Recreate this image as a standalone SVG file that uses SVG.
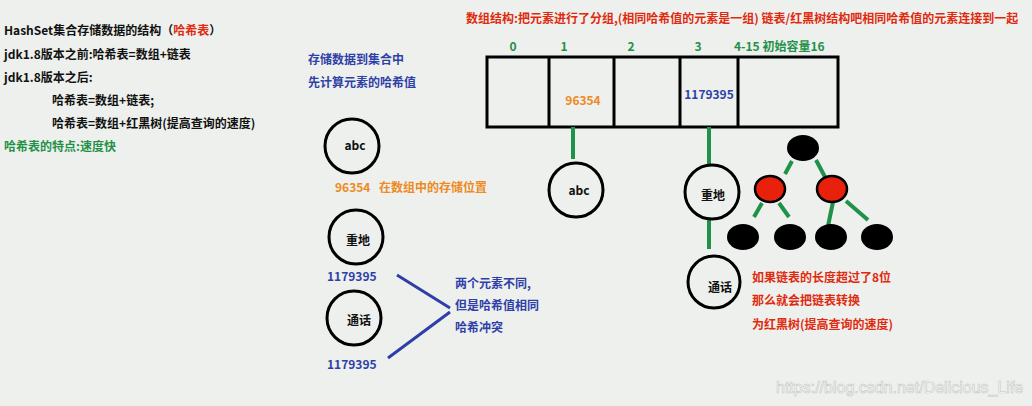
<svg xmlns="http://www.w3.org/2000/svg" width="1032" height="406" viewBox="0 0 1032 406">
<style>
text{font-family:"Microsoft YaHei","Noto Sans CJK SC","Liberation Sans",sans-serif;font-size:12px;font-weight:bold}
.k{fill:#111}
.r{fill:#e02a10}
.b{fill:#2f3fa8}
.g{fill:#1f9148}
.o{fill:#ee8a22}
.c{fill:none;stroke:#000;stroke-width:3}
.gl{stroke:#1f9148;stroke-width:4;fill:none}
.bl{stroke:#2f3fa8;stroke-width:3;fill:none}
.m{text-anchor:middle}
</style>
<rect width="1032" height="406" fill="#edf0ec"/>
<g id="notes">
<text x="4" y="35" class="k">HashSet集合存储数据的结构（<tspan class="r">哈希表</tspan>）</text>
<text x="4" y="59" class="k">jdk1.8版本之前:哈希表=数组+链表</text>
<text x="4" y="82" class="k">jdk1.8版本之后:</text>
<text x="52" y="105" class="k">哈希表=数组+链表;</text>
<text x="52" y="128" class="k">哈希表=数组+红黑树(提高查询的速度)</text>
<text x="4" y="151" class="g">哈希表的特点:速度快</text>
<text x="308" y="64" class="b">存储数据到集合中</text>
<text x="308" y="87" class="b">先计算元素的哈希值</text>
<text x="466" y="23" class="r">数组结构:把元素进行了分组,(相同哈希值的元素是一组) 链表/红黑树结构吧相同哈希值的元素连接到一起</text>
</g>
<g id="array">
<rect x="487" y="57" width="351" height="70" class="c"/>
<path d="M549 57V127M614 57V127M680 57V127M738 57V127" stroke="#000" stroke-width="3"/>
<text x="513" y="51" class="g m">0</text>
<text x="564" y="51" class="g m">1</text>
<text x="631" y="51" class="g m">2</text>
<text x="698" y="51" class="g m">3</text>
<text x="734" y="51" class="g">4-15 初始容量16</text>
<text x="583" y="105" class="o m">96354</text>
<text x="709" y="99" class="b m">1179395</text>
</g>
<g id="connectors">
<path d="M573 127V159M709 127V166M709 219V249" class="gl"/>
<path d="M792 161L785 174M816 160L825 177M762 203L754 217M779 203L789 217M833 202L828 226M846 201L868 220" class="gl"/>
<path d="M397 275L450 308M450 312L388 358" class="bl"/>
</g>
<g id="left-abc">
<circle cx="352" cy="146" r="27" class="c"/>
<text x="355" y="150" class="k m">abc</text>
<text x="335" y="192" class="o">96354</text>
<text x="379" y="192" class="o">在数组中的存储位置</text>
</g>
<g id="left-zhongdi">
<circle cx="356" cy="237" r="27" class="c"/>
<text x="358" y="245" class="k m">重地</text>
<text x="327" y="281" class="b">1179395</text>
</g>
<g id="left-tonghua">
<circle cx="354" cy="318" r="27" class="c"/>
<text x="359" y="325" class="k m">通话</text>
<text x="327" y="369" class="b">1179395</text>
</g>
<g id="collision-note">
<text x="455" y="288" class="b">两个元素不同,</text>
<text x="455" y="310" class="b">但是哈希值相同</text>
<text x="455" y="332" class="b">哈希冲突</text>
</g>
<g id="node-abc">
<circle cx="576" cy="190" r="27" class="c"/>
<text x="579" y="195" class="k m">abc</text>
</g>
<g id="node-zhongdi">
<circle cx="712" cy="192" r="27" class="c"/>
<text x="713" y="200" class="k m">重地</text>
</g>
<g id="node-tonghua">
<circle cx="714" cy="282" r="26" class="c"/>
<text x="720" y="292" class="k m">通话</text>
</g>
<g id="tree">
<ellipse cx="803" cy="148" rx="16" ry="13" fill="#000"/>
<ellipse cx="770" cy="189" rx="15" ry="13" fill="#e8200c" stroke="#000" stroke-width="2.5"/>
<ellipse cx="832" cy="189" rx="15" ry="13" fill="#e8200c" stroke="#000" stroke-width="2.5"/>
<ellipse cx="743" cy="237" rx="16" ry="13" fill="#000"/>
<ellipse cx="790" cy="237" rx="16" ry="13" fill="#000"/>
<ellipse cx="831" cy="237" rx="16" ry="13" fill="#000"/>
<ellipse cx="877" cy="237" rx="16" ry="13" fill="#000"/>
</g>
<g id="tree-note">
<text x="752" y="282" class="r">如果链表的长度超过了8位</text>
<text x="752" y="305" class="r">那么就会把链表转换</text>
<text x="752" y="329" class="r">为红黑树(提高查询的速度)</text>
</g>
<text x="776" y="393" style="font-family:'Liberation Sans',sans-serif;font-size:16px;font-weight:normal;fill:#ffffff;stroke:#c4c6c2;stroke-width:0.6">https://blog.csdn.net/Delicious_Life</text>
</svg>
